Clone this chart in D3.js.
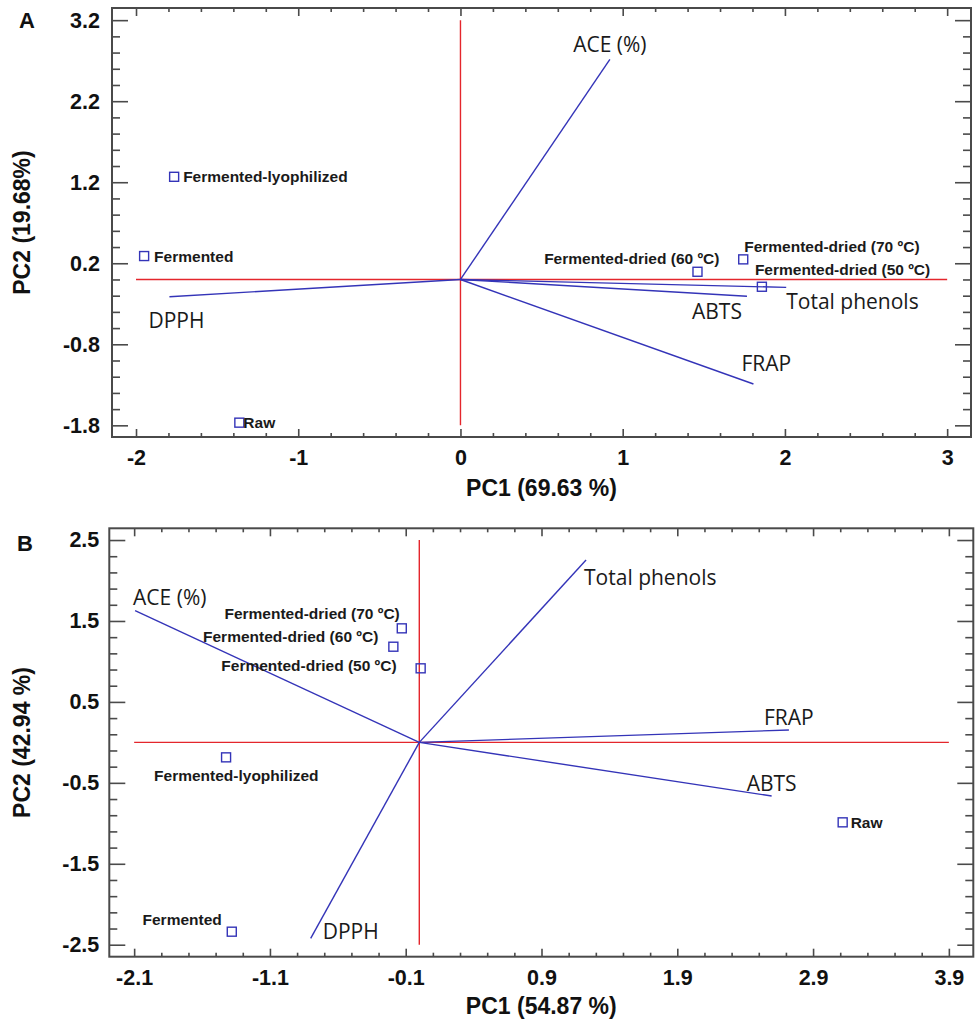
<!DOCTYPE html>
<html><head><meta charset="utf-8">
<script src="https://cdn.jsdelivr.net/npm/d3@7"></script>
<style>body{margin:0;background:#fff}svg{display:block}</style>
</head><body>
<script>
// ---------- DATA ----------
// Panel A
const samplesA = ["Fermented-lyophilized","Fermented","Raw","Fermented-dried (60 ºC)","Fermented-dried (70 ºC)","Fermented-dried (50 ºC)"];
const samplesA_pc1 = [-1.765,-1.95,-1.363,1.461,1.743,1.858];
const samplesA_pc2 = [1.267,0.289,-1.767,0.095,0.248,-0.09];
const varsA = ["ACE (%)","DPPH","Total phenols","ABTS","FRAP"];
const varsA_pc1 = [0.921,-1.794,2.008,1.766,1.806];
const varsA_pc2 = [2.715,-0.213,-0.098,-0.208,-1.29];
const xTicksA = [-2,-1,0,1,2,3];
const xTickLabelsA = ["-2","-1","0","1","2","3"];
const yTicksA = [3.2,2.2,1.2,0.2,-0.8,-1.8];
const yTickLabelsA = ["3.2","2.2","1.2","0.2","-0.8","-1.8"];
const xTitleA = "PC1 (69.63 %)", yTitleA = "PC2 (19.68%)";
// Panel B
const samplesB = ["Fermented-dried (70 ºC)","Fermented-dried (60 ºC)","Fermented-dried (50 ºC)","Fermented-lyophilized","Fermented","Raw"];
const samplesB_pc1 = [-0.129,-0.191,0.01,-1.423,-1.381,3.118];
const samplesB_pc2 = [1.409,1.182,0.915,-0.185,-2.339,-0.988];
const varsB = ["ACE (%)","Total phenols","FRAP","ABTS","DPPH"];
const varsB_pc1 = [-2.093,1.228,2.722,2.595,-0.8];
const varsB_pc2 = [1.627,2.253,0.153,-0.663,-2.421];
const xTicksB = [-2.1,-1.1,-0.1,0.9,1.9,2.9,3.9];
const xTickLabelsB = ["-2.1","-1.1","-0.1","0.9","1.9","2.9","3.9"];
const yTicksB = [2.5,1.5,0.5,-0.5,-1.5,-2.5];
const yTickLabelsB = ["2.5","1.5","0.5","-0.5","-1.5","-2.5"];
const xTitleB = "PC1 (54.87 %)", yTitleB = "PC2 (42.94 %)";

// ---------- LAYOUT ----------
const W = 978, H = 1025;
const BLUE = "#3434b8", RED = "#e4262c", FRAME = "#4a4a4a";
const panels = [
  {
    letter:"A", letterPos:[27,20],
    frame:{x0:112,x1:971,y0:8,y1:437},
    xDom:[-2.148,3.147], yDom:[-1.944,3.35],
    xTicks:xTicksA, xLabels:xTickLabelsA, yTicks:yTicksA, yLabels:yTickLabelsA,
    minorX:[-2,3], minorY:[-1.8,3.2],
    xTitle:xTitleA, yTitle:yTitleA, xTitleY:488,
    samples:samplesA, s1:samplesA_pc1, s2:samplesA_pc2,
    sLab:[[9,0,"start"],[10,0,"start"],[4,0,"start"],[22,-13,"end"],[1,-13,"start"],[-7,-17,"start"]],
    vars:varsA, v1:varsA_pc1, v2:varsA_pc2,
    vLab:[[0,-15,"middle"],[-21,23,"start"],[0,14,"start"],[-5,15,"end"],[-12,-21,"start"]],
    yPad:12, xPad:13
  },
  {
    letter:"B", letterPos:[25,543],
    frame:{x0:109.3,x1:973.3,y0:528.3,y1:956.7},
    xDom:[-2.283,4.08], yDom:[-2.648,2.645],
    xTicks:xTicksB, xLabels:xTickLabelsB, yTicks:yTicksB, yLabels:yTickLabelsB,
    minorX:[-2.1,3.9], minorY:[-2.5,2.5],
    xTitle:xTitleB, yTitle:yTitleB, xTitleY:1006,
    samples:samplesB, s1:samplesB_pc1, s2:samplesB_pc2,
    sLab:[[-2,-15,"end"],[-15,-10,"end"],[-24,-3,"end"],[-72,18,"start"],[-10,-12,"end"],[8,0,"start"]],
    vars:varsB, v1:varsB_pc1, v2:varsB_pc2,
    vLab:[[-2,-14,"start"],[-2,17,"start"],[-25,-13,"start"],[-25,-13,"start"],[12,-7,"start"]],
    yPad:10, xPad:13
  }
];

const svg = d3.select("body").append("svg").attr("width",W).attr("height",H)
  .style("font-family","'Liberation Sans', Arial, sans-serif");
svg.append("rect").attr("width",W).attr("height",H).attr("fill","#fff");

function range02(a,b){const out=[];const n=Math.round((b-a)/0.2);for(let i=0;i<=n;i++)out.push(+(a+i*0.2).toFixed(2));return out;}

panels.forEach(p=>{
  const f=p.frame;
  const x=d3.scaleLinear().domain(p.xDom).range([f.x0,f.x1]);
  const y=d3.scaleLinear().domain(p.yDom).range([f.y1,f.y0]);
  const g=svg.append("g");
  const minX=range02(p.minorX[0],p.minorX[1]).filter(v=>!p.xTicks.some(t=>Math.abs(t-v)<1e-6));
  const minY=range02(p.minorY[0],p.minorY[1]).filter(v=>!p.yTicks.some(t=>Math.abs(t-v)<1e-6));

  const styleAxis=sel=>{sel.select(".domain").remove();sel.selectAll("line").attr("stroke",FRAME).attr("stroke-width",1.6);
    sel.selectAll("text").attr("fill","#111").style("font-size","21.5px").style("font-weight","bold").style("font-family","'Liberation Sans', Arial, sans-serif");};

  // minor ticks
  g.append("g").attr("transform",`translate(0,${f.y1})`).call(d3.axisBottom(x).tickValues(minX).tickSize(-4).tickFormat("")).call(styleAxis);
  g.append("g").attr("transform",`translate(0,${f.y0})`).call(d3.axisTop(x).tickValues(minX).tickSize(-4).tickFormat("")).call(styleAxis);
  g.append("g").attr("transform",`translate(${f.x0},0)`).call(d3.axisLeft(y).tickValues(minY).tickSize(-8).tickFormat("")).call(styleAxis);
  g.append("g").attr("transform",`translate(${f.x1},0)`).call(d3.axisRight(y).tickValues(minY).tickSize(-8).tickFormat("")).call(styleAxis);
  // major ticks
  g.append("g").attr("transform",`translate(0,${f.y1})`).call(d3.axisBottom(x).tickValues(p.xTicks).tickSize(-8).tickPadding(p.xPad).tickFormat((d,i)=>p.xLabels[i])).call(styleAxis);
  g.append("g").attr("transform",`translate(0,${f.y0})`).call(d3.axisTop(x).tickValues(p.xTicks).tickSize(-8).tickFormat("")).call(styleAxis);
  g.append("g").attr("transform",`translate(${f.x0},0)`).call(d3.axisLeft(y).tickValues(p.yTicks).tickSize(-16).tickPadding(p.yPad).tickFormat((d,i)=>p.yLabels[i])).call(styleAxis);
  g.append("g").attr("transform",`translate(${f.x1},0)`).call(d3.axisRight(y).tickValues(p.yTicks).tickSize(-16).tickFormat("")).call(styleAxis);

  // frame
  g.append("rect").attr("x",f.x0).attr("y",f.y0).attr("width",f.x1-f.x0).attr("height",f.y1-f.y0)
    .attr("fill","none").attr("stroke",FRAME).attr("stroke-width",2);

  // red zero axes
  const xr=d3.extent(p.xTicks), yr=d3.extent(p.yTicks);
  g.append("line").attr("x1",x(xr[0])).attr("x2",x(xr[1])).attr("y1",y(0)).attr("y2",y(0)).attr("stroke",RED).attr("stroke-width",1.4);
  g.append("line").attr("x1",x(0)).attr("x2",x(0)).attr("y1",y(yr[0])).attr("y2",y(yr[1])).attr("stroke",RED).attr("stroke-width",1.4);

  // loading vectors
  p.vars.forEach((name,i)=>{
    g.append("line").attr("x1",x(0)).attr("y1",y(0)).attr("x2",x(p.v1[i])).attr("y2",y(p.v2[i]))
      .attr("stroke",BLUE).attr("stroke-width",1.4);
    const L=p.vLab[i];
    g.append("text").attr("x",x(p.v1[i])+L[0]).attr("y",y(p.v2[i])+L[1])
      .attr("text-anchor",L[2]).attr("dominant-baseline","central")
      .style("font-family","'Open Sans', sans-serif").style("font-size","21px").attr("fill","#1a1a1a").text(name);
  });

  // sample points
  p.samples.forEach((name,i)=>{
    const cx=x(p.s1[i]), cy=y(p.s2[i]);
    g.append("rect").attr("x",cx-4.5).attr("y",cy-4.5).attr("width",9).attr("height",9)
      .attr("fill","none").attr("stroke",BLUE).attr("stroke-width",1.4);
    const L=p.sLab[i];
    g.append("text").attr("x",cx+L[0]).attr("y",cy+L[1]).attr("text-anchor",L[2]).attr("dominant-baseline","central")
      .style("font-size","15.5px").style("font-weight","bold").attr("fill","#1a1a1a").text(name);
  });

  // titles
  g.append("text").attr("x",(f.x0+f.x1)/2).attr("y",p.xTitleY).attr("text-anchor","middle").attr("dominant-baseline","central")
    .style("font-size","23px").style("font-weight","bold").attr("fill","#111").text(p.xTitle);
  g.append("text").attr("transform",`translate(22,${(f.y0+f.y1)/2}) rotate(-90)`).attr("text-anchor","middle").attr("dominant-baseline","central")
    .style("font-size","23px").style("font-weight","bold").attr("fill","#111").text(p.yTitle);
  g.append("text").attr("x",p.letterPos[0]).attr("y",p.letterPos[1]).attr("text-anchor","middle").attr("dominant-baseline","central")
    .style("font-size","22px").style("font-weight","bold").attr("fill","#111").text(p.letter);
});
</script>
</body></html>
